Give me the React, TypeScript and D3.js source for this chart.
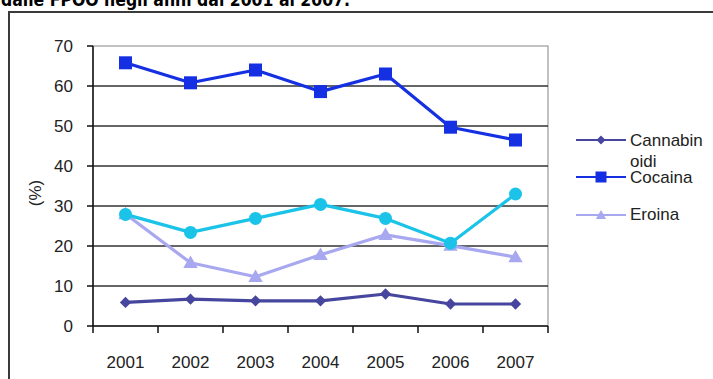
import React from "react";
import * as d3 from "d3";

const years = ["2001", "2002", "2003", "2004", "2005", "2006", "2007"];
const cannabinoidi = [5.9, 6.7, 6.3, 6.3, 8.0, 5.5, 5.5];
const cocaina = [65.8, 60.8, 64.0, 58.6, 63.0, 49.7, 46.5];
const eroina = [28.0, 15.8, 12.3, 17.8, 22.8, 20.1, 17.2];
const quarta = [27.9, 23.4, 26.9, 30.4, 26.9, 20.7, 33.0];
const yTicks = [0, 10, 20, 30, 40, 50, 60, 70];
const titleText = "dalle FPOO negli anni dal 2001 al 2007.";

const W = 713;
const H = 379;
const FONT = "'Liberation Sans', Arial, sans-serif";

export default function App() {
  const x = d3.scaleBand<string>().domain(years).range([93, 548]);
  const y = d3.scaleLinear().domain([0, 70]).range([326, 46]);
  const cx = (yr: string) => (x(yr) as number) + x.bandwidth() / 2;

  const line = d3
    .line<number>()
    .x((_, i) => cx(years[i]))
    .y((v) => y(v));

  const series = [
    { name: "Cannabinoidi", data: cannabinoidi, color: "#46469E", sym: "diamond" },
    { name: "Cocaina", data: cocaina, color: "#1530E3", sym: "square" },
    { name: "Eroina", data: eroina, color: "#A8A8F0", sym: "triangle" },
    { name: "", data: quarta, color: "#1BC3E8", sym: "circle" },
  ];

  const marker = (sym: string, color: string, px: number, py: number, big: boolean, key: any) => {
    if (sym === "square") {
      const s = big ? 13 : 11;
      return <rect key={key} x={px - s / 2} y={py - s / 2} width={s} height={s} fill={color} />;
    }
    if (sym === "circle") {
      return <circle key={key} cx={px} cy={py} r={big ? 6.5 : 5} fill={color} />;
    }
    if (sym === "triangle") {
      const p = d3.symbol().type(d3.symbolTriangle).size(big ? 90 : 45)();
      return <path key={key} d={p as string} transform={`translate(${px},${py + 1})`} fill={color} />;
    }
    const p = d3.symbol().type(d3.symbolSquare).size(big ? 64 : 40)();
    return <path key={key} d={p as string} transform={`translate(${px},${py}) rotate(45)`} fill={color} />;
  };

  const legendItems = [
    { s: series[0], ly: 140, lines: ["Cannabin", "oidi"], ty: 146 },
    { s: series[1], ly: 177, lines: ["Cocaina"], ty: 183 },
    { s: series[2], ly: 215, lines: ["Eroina"], ty: 220 },
  ];

  return (
    <svg
      width={W}
      height={H}
      style={{ position: "absolute", left: 0, top: 0, display: "block", background: "#fff" }}
    >
      <rect x={0} y={0} width={W} height={H} fill="#fff" />
      <text
        x={1}
        y={6}
        fontFamily="'DejaVu Sans', Verdana, sans-serif"
        fontWeight="bold"
        fontSize={17}
        textLength={349}
        lengthAdjust="spacingAndGlyphs"
        fill="#000"
      >
        {titleText}
      </text>
      <rect x={9} y={12} width={W + 20} height={H + 20} fill="#fff" stroke="#3a3a3a" strokeWidth={2} />

      {/* plot area border */}
      <rect x={93} y={46} width={455} height={280} fill="none" stroke="#9a9a9a" strokeWidth={1.2} />

      {/* gridlines */}
      {yTicks.filter((t) => t > 0 && t < 70).map((t) => (
        <line key={t} x1={93} x2={548} y1={y(t)} y2={y(t)} stroke="#333" strokeWidth={1.5} />
      ))}

      {/* y axis */}
      <line x1={93} x2={93} y1={46} y2={326} stroke="#111" strokeWidth={1.5} />
      {yTicks.map((t) => (
        <g key={t}>
          <line x1={87} x2={93} y1={y(t)} y2={y(t)} stroke="#111" strokeWidth={1.5} />
          <text
            x={73}
            y={y(t)}
            dy="0.36em"
            textAnchor="end"
            fontFamily={FONT}
            fontSize={17}
            fill="#222"
          >
            {t}
          </text>
        </g>
      ))}

      {/* x axis */}
      <line x1={93} x2={548} y1={326} y2={326} stroke="#111" strokeWidth={1.5} />
      {[...years.map((yr) => x(yr) as number), 548].map((px, i) => (
        <line key={i} x1={px} x2={px} y1={326} y2={333} stroke="#111" strokeWidth={1.5} />
      ))}
      {years.map((yr) => (
        <text
          key={yr}
          x={cx(yr)}
          y={368}
          textAnchor="middle"
          fontFamily={FONT}
          fontSize={17}
          fill="#222"
        >
          {yr}
        </text>
      ))}

      <text
        transform={`translate(41,193) rotate(-90)`}
        textAnchor="middle"
        fontFamily={FONT}
        fontSize={17}
        fill="#222"
      >
        (%)
      </text>

      {/* series */}
      {series.map((s, si) => (
        <g key={si}>
          <path d={line(s.data) as string} fill="none" stroke={s.color} strokeWidth={3.2} strokeLinejoin="round" />
          {s.data.map((v, i) => marker(s.sym, s.color, cx(years[i]), y(v), true, i))}
        </g>
      ))}

      {/* legend */}
      {legendItems.map((it, i) => (
        <g key={i}>
          <line x1={576} x2={626} y1={it.ly} y2={it.ly} stroke={it.s.color} strokeWidth={2} />
          {marker(it.s.sym, it.s.color, 601, it.ly, false, "m")}
          <text x={630} y={it.ty} fontFamily={FONT} fontSize={17} fill="#222">
            {it.lines.map((ln, k) => (
              <tspan key={k} x={630} dy={k === 0 ? 0 : 21}>
                {ln}
              </tspan>
            ))}
          </text>
        </g>
      ))}
    </svg>
  );
}
